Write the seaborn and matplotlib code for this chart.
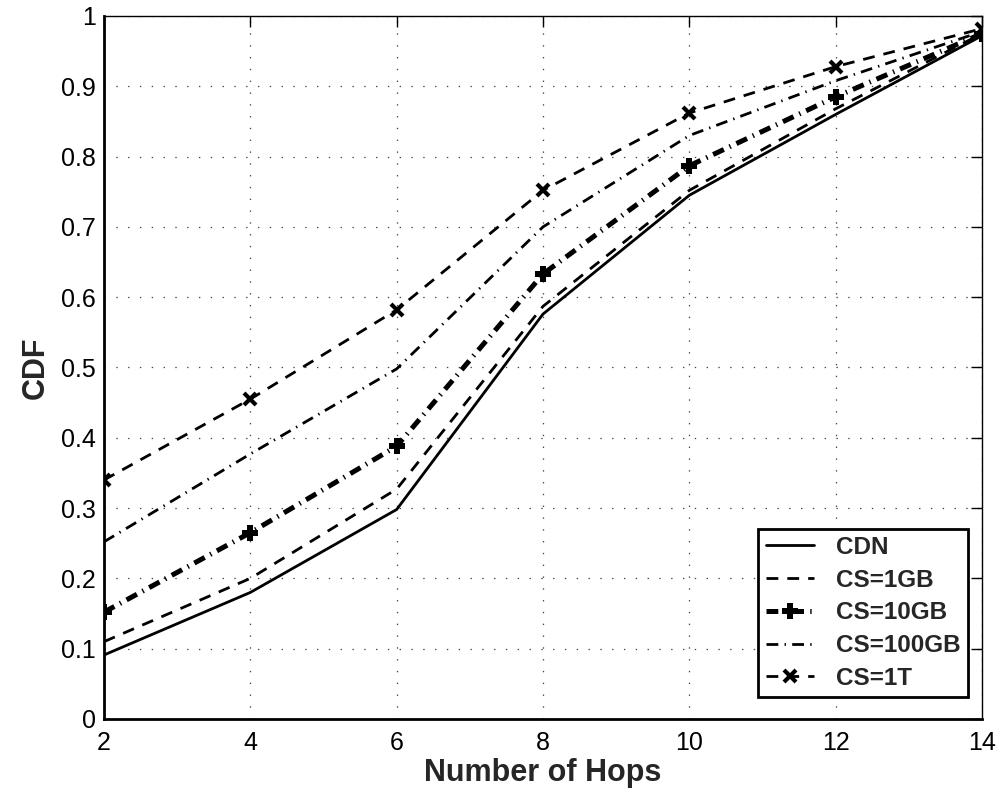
import matplotlib
matplotlib.use("Agg")
import matplotlib.pyplot as plt
import seaborn as sns
import pandas as pd

hops = [2, 4, 6, 8, 10, 12, 14]
cdn = [0.091, 0.180, 0.298, 0.576, 0.745, 0.860, 0.972]
cs_1gb = [0.110, 0.200, 0.327, 0.587, 0.752, 0.868, 0.975]
cs_10gb = [0.152, 0.265, 0.388, 0.633, 0.787, 0.885, 0.975]
cs_100gb = [0.252, 0.377, 0.498, 0.700, 0.830, 0.908, 0.978]
cs_1t = [0.340, 0.455, 0.582, 0.752, 0.862, 0.928, 0.982]
labels = ["CDN", "CS=1GB", "CS=10GB", "CS=100GB", "CS=1T"]
series = [cdn, cs_1gb, cs_10gb, cs_100gb, cs_1t]
xticks = [2, 4, 6, 8, 10, 12, 14]
yticks = [0, 0.1, 0.2, 0.3, 0.4, 0.5, 0.6, 0.7, 0.8, 0.9, 1]
ytick_labels = ["0", "0.1", "0.2", "0.3", "0.4", "0.5", "0.6", "0.7", "0.8", "0.9", "1"]

sns.set_style("white")
plt.rcParams["font.family"] = ["Liberation Sans", "DejaVu Sans"]
plt.rcParams["lines.scale_dashes"] = False

fig = plt.figure(figsize=(9.98, 7.92), dpi=100)
ax = fig.add_axes([0.1042, 0.0922, 0.8798, 0.8876])

styles = [
    dict(lw=2.0, ls="-", marker=None, ms=0, mew=0),
    dict(lw=2.0, ls=(0, (8.5, 6.5)), marker=None, ms=0, mew=0),
    dict(lw=3.6, ls=(0, (8.5, 4.5, 1.0, 4.5)), marker="P", ms=11, mew=0),
    dict(lw=2.0, ls=(0, (8.5, 4.5, 1.0, 4.5)), marker=None, ms=0, mew=0),
    dict(lw=2.0, ls=(0, (8.5, 6.5)), marker="x", ms=8.5, mew=3),
]

for lab, vals, st in zip(labels, series, styles):
    df = pd.DataFrame({"hops": hops, "cdf": vals})
    kw = dict(linewidth=st["lw"], linestyle=st["ls"], color="black", label=lab)
    if st["marker"]:
        kw.update(marker=st["marker"], markersize=st["ms"], markeredgewidth=st["mew"],
                  markerfacecolor="black", markeredgecolor="black")
    sns.lineplot(data=df, x="hops", y="cdf", ax=ax, **kw)

ax.set_xlim(2, 14)
ax.set_ylim(0, 1)
ax.set_xticks(xticks)
ax.set_xticklabels([str(t) for t in xticks])
ax.set_yticks(yticks)
ax.set_yticklabels(ytick_labels)
ax.tick_params(axis="both", which="both", direction="in", length=8, width=1,
               labelsize=18, top=True, right=True, colors="black")
ax.tick_params(axis="x", pad=9)
ax.tick_params(axis="y", pad=6)
ax.grid(True, linestyle=(0, (1, 7.5)), color="#444444", linewidth=0.9)
for sp in ax.spines.values():
    sp.set_visible(True)
    sp.set_color("black")
    sp.set_linewidth(1.0)
ax.spines["left"].set_linewidth(2.0)
ax.spines["bottom"].set_linewidth(2.0)

ax.set_xlabel("Number of Hops", fontsize=22, fontweight="bold", labelpad=2)
ax.set_ylabel("CDF", fontsize=22, fontweight="bold", labelpad=7)

leg = ax.legend(loc="lower right", bbox_to_anchor=(0.984, 0.031),
                prop={"weight": "bold", "size": 17.5}, frameon=True, fancybox=False,
                edgecolor="black", handlelength=2.0, borderpad=0.3, labelspacing=0.4,
                handletextpad=0.9, borderaxespad=0.0, numpoints=1)
leg.get_frame().set_linewidth(2.0)
leg.get_frame().set_alpha(1.0)

fig.savefig("out.png", dpi=100)
